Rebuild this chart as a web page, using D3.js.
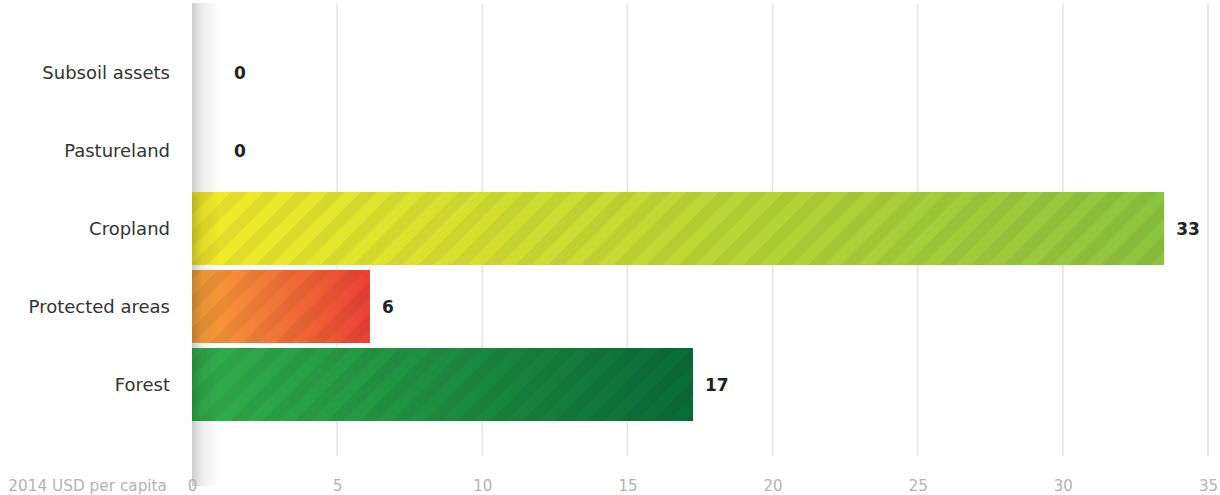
<!DOCTYPE html>
<html>
<head>
<meta charset="utf-8">
<script src="https://cdn.jsdelivr.net/npm/d3@7"></script>
<style>
  html, body { margin: 0; padding: 0; background: #fff; }
  svg { display: block; font-family: "DejaVu Sans", "Noto Sans", sans-serif; }
</style>
</head>
<body>
<svg id="chart" width="1220" height="495"></svg>
<script>
// Natural capital per capita, by asset type
const categories = ["Subsoil assets", "Pastureland", "Cropland", "Protected areas", "Forest"];
const values = [0, 0, 33.49, 6.13, 17.26];
const xTicks = [0, 5, 10, 15, 20, 25, 30, 35];
const unitLabel = "2014 USD per capita";
const gradientStops = [
  null,
  null,
  ["#f2eb2a", "#8cc43f"],
  ["#f9a33a", "#ea4034"],
  ["#31b04b", "#0a6a36"]
];

const svg = d3.select("#chart");
const left = 192, right = 1208, gridTop = 4, gridBottom = 456;

const x = d3.scaleLinear().domain([0, 35]).range([left, right]);
const y = d3.scaleBand().domain(categories).range([36, 421]).paddingInner(0.064).paddingOuter(0);

const defs = svg.append("defs");

// diagonal stripe texture laid over each bar
const stripe = defs.append("pattern")
  .attr("id", "stripes")
  .attr("patternUnits", "userSpaceOnUse")
  .attr("width", 23).attr("height", 23)
  .attr("patternTransform", "rotate(45)");
stripe.append("rect").attr("width", 11.5).attr("height", 23).attr("fill", "#000").attr("fill-opacity", 0.05);

categories.forEach((c, i) => {
  if (!gradientStops[i]) return;
  const g = defs.append("linearGradient").attr("id", "grad" + i)
    .attr("x1", "0%").attr("x2", "100%").attr("y1", "0%").attr("y2", "0%");
  g.append("stop").attr("offset", "0%").attr("stop-color", gradientStops[i][0]);
  g.append("stop").attr("offset", "100%").attr("stop-color", gradientStops[i][1]);
});

const shade = defs.append("linearGradient").attr("id", "shade")
  .attr("x1", "0%").attr("x2", "100%").attr("y1", "0%").attr("y2", "0%");
shade.append("stop").attr("offset", "0%").attr("stop-color", "#000").attr("stop-opacity", 0.2);
shade.append("stop").attr("offset", "35%").attr("stop-color", "#000").attr("stop-opacity", 0.07);
shade.append("stop").attr("offset", "100%").attr("stop-color", "#000").attr("stop-opacity", 0);

// vertical grid
svg.append("g").selectAll("line").data(xTicks.slice(1)).join("line")
  .attr("x1", d => x(d)).attr("x2", d => x(d))
  .attr("y1", gridTop).attr("y2", gridBottom)
  .attr("stroke", "#e3e3e3").attr("stroke-width", 1.5);

// bars
const rows = categories.map((c, i) => ({ c, v: values[i], i }));
const bars = svg.append("g");
bars.selectAll("rect.bar").data(rows.filter(d => d.v > 0)).join("rect")
  .attr("class", "bar")
  .attr("x", x(0)).attr("y", d => y(d.c))
  .attr("width", d => x(d.v) - x(0)).attr("height", y.bandwidth())
  .attr("fill", d => `url(#grad${d.i})`);
bars.selectAll("rect.tex").data(rows.filter(d => d.v > 0)).join("rect")
  .attr("class", "tex")
  .attr("x", x(0)).attr("y", d => y(d.c))
  .attr("width", d => x(d.v) - x(0)).attr("height", y.bandwidth())
  .attr("fill", "url(#stripes)");

// soft shadow along the baseline
svg.append("rect")
  .attr("x", left).attr("y", 3).attr("width", 28).attr("height", 483)
  .attr("fill", "url(#shade)");

// value labels
svg.append("g").selectAll("text").data(rows).join("text")
  .attr("x", d => Math.max(x(d.v), x(0) + 30) + 12)
  .attr("y", d => y(d.c) + y.bandwidth() / 2 + 0.5)
  .attr("dy", "0.35em")
  .attr("font-size", 17).attr("font-weight", "bold").attr("fill", "#222")
  .text(d => d3.format(".0f")(d.v));

// category axis
const yAxis = svg.append("g").attr("transform", `translate(${left},1)`)
  .call(d3.axisLeft(y).tickSize(0).tickPadding(22));
yAxis.select(".domain").remove();
yAxis.selectAll("text").attr("font-size", 18).attr("fill", "#333")
  .attr("font-family", "\"DejaVu Sans\", sans-serif");

// value axis
const xAxis = svg.append("g").attr("transform", `translate(0,${gridBottom})`)
  .call(d3.axisBottom(x).tickValues(xTicks).tickSize(0).tickPadding(24));
xAxis.select(".domain").remove();
xAxis.selectAll("text").attr("font-size", 15).attr("fill", "#b3b3b3")
  .attr("font-family", "\"DejaVu Sans\", sans-serif");

svg.append("text")
  .attr("x", 167).attr("y", 491)
  .attr("text-anchor", "end")
  .attr("font-size", 15.3).attr("fill", "#b3b3b3")
  .text(unitLabel);
</script>
</body>
</html>
